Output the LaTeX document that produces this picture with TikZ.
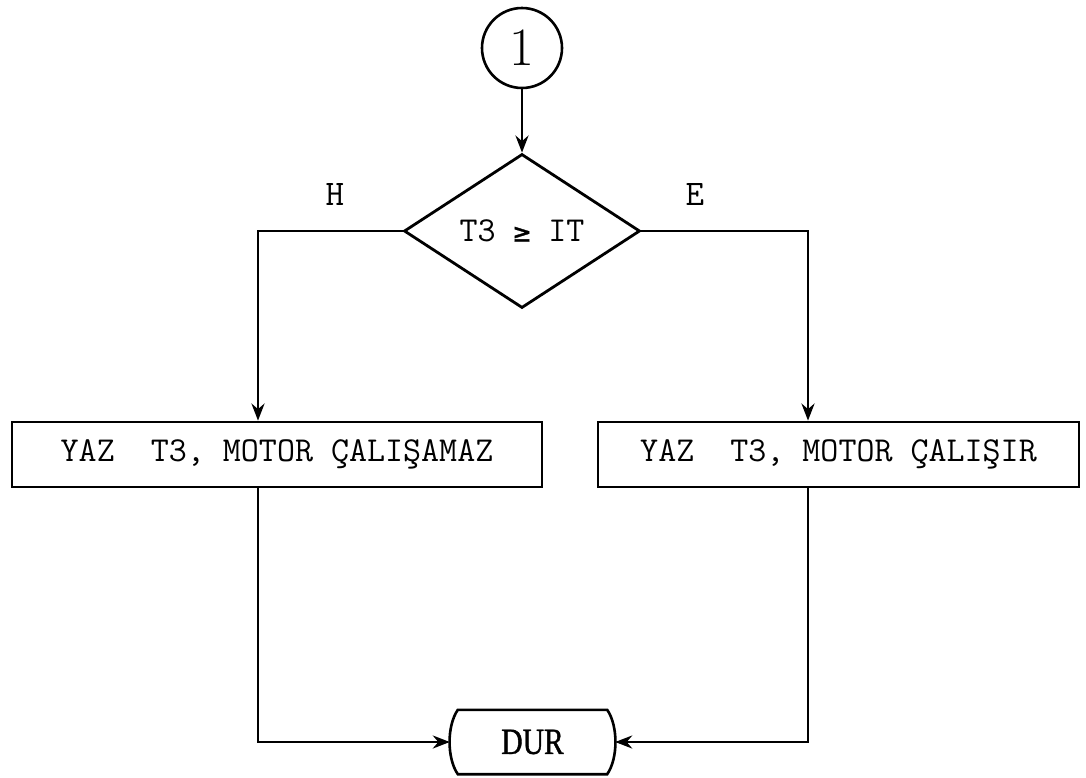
\documentclass[tikz,border=0pt]{standalone}
\usepackage{fontspec}
\usetikzlibrary{shapes.geometric,arrows.meta,calc}
\newfontfamily\durfont[FakeStretch=0.8,FakeBold=1]{Liberation Serif}
\newfontfamily\relfont[FakeBold=1]{DejaVu Sans Mono}
\newcommand{\typewriter}{\ttfamily\addfontfeatures{FakeBold=1.6}}

\tikzset{
  conn/.style={draw, line width=2.8pt},
  arr/.style={conn, -{Stealth[length=17pt,width=13pt]}},
  connector/.style={circle, draw, line width=2.6pt, minimum size=80pt, inner sep=0pt,
    font=\fontsize{54}{54}\selectfont},
  decision/.style={diamond, draw, line width=2.8pt, aspect=1.53, inner sep=0pt,
    minimum width=236pt, minimum height=154pt,
    font=\typewriter\fontsize{35}{38}\selectfont},
  procbox/.style={rectangle, draw, line width=2.8pt, inner sep=0pt,
    minimum height=65pt, font=\typewriter\fontsize{35}{38}\selectfont},
  terminal/.style={rectangle, inner sep=0pt, minimum width=165pt, minimum height=64pt,
    font=\durfont\fontsize{37}{40}\selectfont},
  branchlbl/.style={inner sep=0pt, font=\typewriter\fontsize{36}{38}\selectfont},
}

\begin{document}
\begin{tikzpicture}[x=1pt, y=-1pt]
  \useasboundingbox (0,0) rectangle (1086,777);

  % connector, decision and the two output boxes
  \node[connector] (c1) at (522,48) {1};
  \node[decision] (dec) at (522,231) {T3 {\relfont\fontsize{28}{30}\selectfont ≥} IT};
  \node[procbox, minimum width=530pt] (lbox) at (277,454.5) {YAZ~~T3, MOTOR ÇALIŞAMAZ};
  \node[procbox, minimum width=481pt] (rbox) at (838.5,454.5) {YAZ~~T3, MOTOR ÇALIŞIR};

  % branch labels
  \node[branchlbl] (h) at (335,194) {H};
  \node[branchlbl] (e) at (695,194) {E};

  % stop terminal with bowed sides
  \node[terminal] (dur) at (532.5,742) {DUR};
  \draw[line width=2.6pt]
    ($(dur.north west)+(8,0)$) -- ($(dur.north east)+(-8,0)$)
    .. controls ($(dur.north east)+(3,16)$) and ($(dur.south east)+(3,-16)$) ..
    ($(dur.south east)+(-8,0)$) -- ($(dur.south west)+(8,0)$)
    .. controls ($(dur.south west)+(-3,-16)$) and ($(dur.north west)+(-3,16)$) ..
    cycle;

  % corner points of the connectors
  \coordinate (hL) at (258,231);
  \coordinate (hR) at (808,231);
  \coordinate (bL) at (258,742);
  \coordinate (bR) at (808,742);

  \draw[arr] (c1) -- (dec);
  \draw[arr] (dec.west) -- (hL) -- (hL |- lbox.north);
  \draw[arr] (dec.east) -- (hR) -- (hR |- rbox.north);
  \draw[arr] (hL |- lbox.south) -- (bL) -- (dur.west);
  \draw[arr] (hR |- rbox.south) -- (bR) -- (dur.east);
\end{tikzpicture}
\end{document}
